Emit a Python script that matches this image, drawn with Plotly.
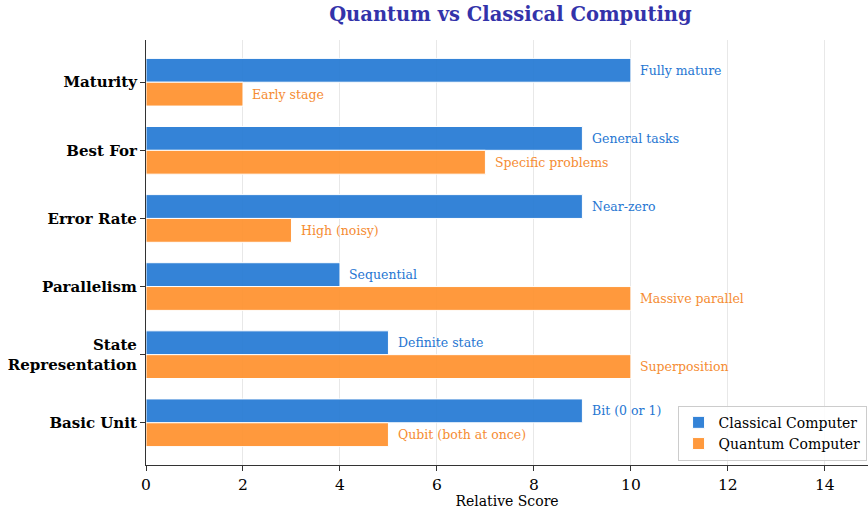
import plotly.graph_objects as go

# Comparison aspects, listed bottom to top
categories = ["Basic Unit", "State<br>Representation", "Parallelism",
              "Error Rate", "Best For", "Maturity"]
classical_scores = [9, 5, 4, 9, 9, 10]
quantum_scores = [5, 10, 10, 3, 7, 2]
classical_notes = ["Bit (0 or 1)", "Definite state", "Sequential",
                   "Near-zero", "General tasks", "Fully mature"]
quantum_notes = ["Qubit (both at once)", "Superposition", "Massive parallel",
                 "High (noisy)", "Specific problems", "Early stage"]
x_ticks = [0, 2, 4, 6, 8, 10, 12, 14]

BLUE = "rgb(42,125,213)"
ORANGE = "rgb(255,148,51)"
BLUE_TXT = "rgb(38,118,210)"
ORANGE_TXT = "rgb(245,140,50)"
FONT = "DejaVu Serif"
bar_h = 0.35

pos = list(range(len(categories)))
fig = go.Figure()
fig.add_trace(go.Bar(
    name="Classical Computer", orientation="h",
    x=classical_scores, y=[p + bar_h / 2 for p in pos], width=bar_h,
    marker=dict(color=BLUE, line=dict(color="white", width=1)), opacity=0.95,
))
fig.add_trace(go.Bar(
    name="Quantum Computer", orientation="h",
    x=quantum_scores, y=[p - bar_h / 2 for p in pos], width=bar_h,
    marker=dict(color=ORANGE, line=dict(color="white", width=1)), opacity=0.95,
))

for p, v, t in zip(pos, classical_scores, classical_notes):
    fig.add_annotation(x=v + 0.15, y=p + bar_h / 2, text=t, showarrow=False,
                       xanchor="left", yanchor="middle",
                       font=dict(family=FONT, size=12.5, color=BLUE_TXT))
for p, v, t in zip(pos, quantum_scores, quantum_notes):
    fig.add_annotation(x=v + 0.15, y=p - bar_h / 2, text=t, showarrow=False,
                       xanchor="left", yanchor="middle",
                       font=dict(family=FONT, size=12.5, color=ORANGE_TXT))

fig.update_layout(
    width=868, height=509,
    margin=dict(l=146, r=0, t=40, b=44),
    plot_bgcolor="white", paper_bgcolor="white",
    barmode="overlay",
    font=dict(family=FONT, color="black"),
    title=dict(text="<b>Quantum vs Classical Computing</b>", x=0.588, xanchor="center",
               y=0.972, yanchor="middle",
               font=dict(family=FONT, size=19.5, color="rgb(51,51,170)")),
    xaxis=dict(range=[0, 14.89], tickvals=x_ticks, ticks="outside", ticklen=5,
               tickcolor="#333", showline=True, linecolor="#333", linewidth=1.2,
               showgrid=True, gridcolor="rgba(0,0,0,0.09)", gridwidth=1,
               zeroline=False, tickfont=dict(size=15.5),
               title=dict(text="Relative Score", font=dict(size=14), standoff=6)),
    yaxis=dict(range=[-0.62, 5.62], tickvals=pos, ticktext=[f"<b>{c}</b>" for c in categories],
               ticks="outside", ticklen=5, tickcolor="#333", showline=True,
               linecolor="#333", linewidth=1.2, showgrid=False, zeroline=False,
               tickfont=dict(size=15)),
    legend=dict(x=0.998, y=0.01, xanchor="right", yanchor="bottom",
                bgcolor="rgba(255,255,255,0.85)", bordercolor="#cccccc", borderwidth=1,
                font=dict(family=FONT, size=14), traceorder="normal",
                tracegroupgap=0, itemwidth=30),
)

fig.write_html("out.html")
